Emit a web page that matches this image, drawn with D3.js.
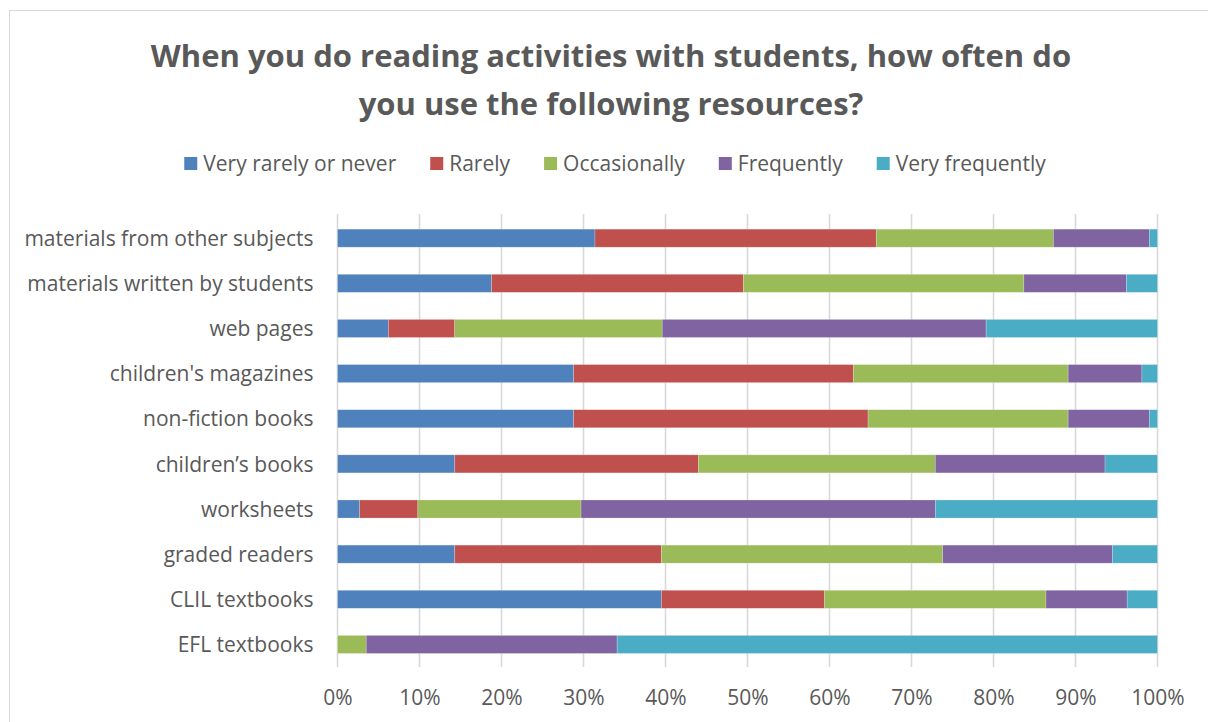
<!DOCTYPE html>
<html>
<head>
<meta charset="utf-8">
<script src="https://cdn.jsdelivr.net/npm/d3@7"></script>
<style>
  html, body { margin: 0; padding: 0; background: #fff; }
  svg { display: block; }
  text { font-family: "Open Sans", "Noto Sans", sans-serif; fill: #595959; }
</style>
</head>
<body>
<svg id="chart" width="1208" height="722"></svg>
<script>
// Survey resources, listed top to bottom
const categories = [
  "materials from other subjects",
  "materials written by students",
  "web pages",
  "children's magazines",
  "non-fiction books",
  "children\u2019s books",
  "worksheets",
  "graded readers",
  "CLIL textbooks",
  "EFL textbooks"
];

const seriesNames = ["Very rarely or never", "Rarely", "Occasionally", "Frequently", "Very frequently"];
const seriesColors = ["#4F81BD", "#C0504D", "#9BBB59", "#8064A2", "#4BACC6"];

// Percent of respondents per answer, same order as categories
const veryRarely   = [31.4, 18.8,  6.2, 28.8, 28.8, 14.3,  2.7, 14.3, 39.5,  0.0];
const rarely       = [34.3, 30.7,  8.1, 34.1, 35.9, 29.7,  7.1, 25.2, 19.9,  0.0];
const occasionally = [21.6, 34.2, 25.3, 26.2, 24.4, 28.9, 19.9, 34.3, 27.0,  3.5];
const frequently   = [11.7, 12.5, 39.5,  9.0,  9.9, 20.7, 43.2, 20.7,  9.9, 30.6];
const veryFreq     = [ 1.0,  3.8, 20.9,  1.9,  1.0,  6.4, 27.1,  5.5,  3.7, 65.9];

const tickValues = [0, 10, 20, 30, 40, 50, 60, 70, 80, 90, 100];

const titleLines = [
  "When you do reading activities with students, how often do",
  "you use the following resources?"
];

const seriesValues = [veryRarely, rarely, occasionally, frequently, veryFreq];
const rows = categories.map((c, i) => {
  const r = { category: c };
  seriesNames.forEach((s, k) => { r[s] = seriesValues[k][i]; });
  return r;
});

const svg = d3.select("#chart");

// chart frame
svg.append("rect")
  .attr("x", 9.5).attr("y", 10.5)
  .attr("width", 1240).attr("height", 760)
  .attr("fill", "none").attr("stroke", "#d9d9d9").attr("stroke-width", 1);

// title
svg.append("g").selectAll("text").data(titleLines).join("text")
  .attr("x", 611)
  .attr("y", (d, i) => 67 + i * 48)
  .attr("text-anchor", "middle")
  .attr("font-size", 31)
  .attr("font-weight", "bold")
  .text(d => d);

const x = d3.scaleLinear().domain([0, 100]).range([337.5, 1157.5]);
const y = d3.scaleBand().domain(categories).range([215.6, 667]).paddingInner(0.6).paddingOuter(0.3);

// vertical gridlines
svg.append("g").selectAll("line").data(tickValues).join("line")
  .attr("x1", d => x(d)).attr("x2", d => x(d))
  .attr("y1", 214).attr("y2", 667)
  .attr("stroke", "#d9d9d9").attr("stroke-width", 1.6);

// stacked bars
const layers = d3.stack().keys(seriesNames)(rows);

svg.append("g").selectAll("g").data(layers).join("g")
  .attr("fill", (d, i) => seriesColors[i])
  .selectAll("rect").data(d => d).join("rect")
  .attr("x", d => x(d[0]))
  .attr("width", d => x(d[1]) - x(d[0]))
  .attr("y", d => y(d.data.category))
  .attr("height", y.bandwidth())
  .attr("stroke", "#ffffff").attr("stroke-opacity", 0.35).attr("stroke-width", 0.6);

// category labels
const yAxis = svg.append("g").attr("transform", `translate(${x(0)},1)`)
  .call(d3.axisLeft(y).tickSize(0).tickPadding(24));
yAxis.select(".domain").remove();
yAxis.selectAll("text")
  .attr("font-size", 21)
  .attr("fill", "#595959")
  .style("font-family", '"Open Sans", "Noto Sans", sans-serif');

// percent axis
const xAxis = svg.append("g").attr("transform", `translate(0,${667})`)
  .call(d3.axisBottom(x).tickValues(tickValues).tickFormat(d => d + "%").tickSize(0).tickPadding(23));
xAxis.select(".domain").remove();
xAxis.selectAll("text")
  .attr("font-size", 21)
  .attr("fill", "#595959")
  .style("font-family", '"Open Sans", "Noto Sans", sans-serif');

// legend, laid out from measured label widths and centred
const legend = svg.append("g");
const items = legend.selectAll("g").data(seriesNames).join("g");
items.append("rect")
  .attr("width", 13).attr("height", 13)
  .attr("y", -7)
  .attr("fill", (d, i) => seriesColors[i]);
items.append("text")
  .attr("x", 19)
  .attr("dy", "0.35em")
  .attr("font-size", 21)
  .text(d => d);

const widths = [];
items.each(function () {
  widths.push(19 + d3.select(this).select("text").node().getComputedTextLength());
});
const gap = 34;
const total = d3.sum(widths) + gap * (widths.length - 1);
let start = 615 - total / 2;
items.attr("transform", (d, i) => {
  const tx = start;
  start += widths[i] + gap;
  return `translate(${tx},${164})`;
});
</script>
</body>
</html>
